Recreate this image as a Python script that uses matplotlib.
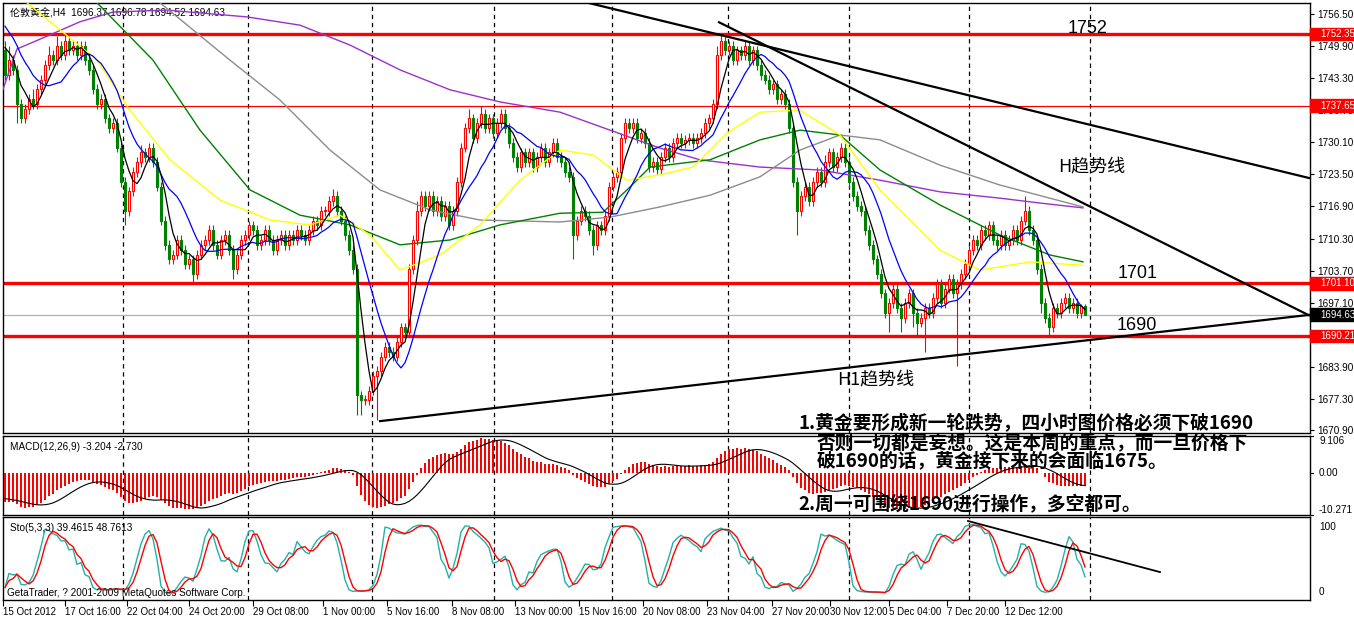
import matplotlib
matplotlib.use('Agg')
import matplotlib.pyplot as plt
import matplotlib.transforms as mtransforms
from matplotlib.patches import Rectangle
import numpy as np
import pandas as pd

plt.rcParams['font.family'] = ['Liberation Sans', 'Noto Sans CJK SC', 'DejaVu Sans']

# ---- data: H4 closes from 15 Oct 2012 ----
closes = [1744, 1747, 1745, 1738, 1735, 1737, 1739, 1738, 1741, 1743,
          1746, 1748, 1747, 1750, 1748, 1751, 1749, 1750, 1748, 1750,
          1747, 1745, 1741, 1738, 1739, 1735, 1733, 1734, 1729, 1722,
          1716, 1720, 1724, 1726, 1728, 1727, 1729, 1726, 1721, 1714,
          1709, 1706, 1707, 1710, 1708, 1705, 1706, 1703, 1707, 1709,
          1710, 1712, 1709, 1707, 1710, 1711, 1708, 1704, 1707, 1710,
          1711, 1713, 1712, 1709, 1710, 1712, 1710, 1708, 1710, 1711,
          1709, 1711, 1710, 1712, 1711, 1710, 1712, 1714, 1713, 1716,
          1716, 1718, 1719, 1716, 1714, 1711, 1708, 1704, 1678, 1677,
          1677, 1679, 1682, 1683, 1686, 1688, 1687, 1686, 1689, 1692,
          1691, 1704, 1710, 1716, 1719, 1717, 1719, 1716, 1718, 1715,
          1717, 1713, 1716, 1722, 1729, 1733, 1735, 1731, 1734, 1736,
          1733, 1735, 1732, 1734, 1736, 1733, 1730, 1727, 1725, 1728,
          1726, 1728, 1725, 1727, 1729, 1726, 1728, 1730, 1727, 1726,
          1724, 1723, 1711, 1714, 1716, 1715, 1712, 1709, 1713, 1712,
          1715, 1721, 1723, 1724, 1731, 1734, 1733, 1734, 1731, 1732,
          1730, 1725, 1726, 1724.5, 1727, 1729, 1727, 1730, 1731, 1730,
          1730.5, 1731, 1730, 1731, 1732, 1734, 1735, 1738, 1748, 1751,
          1749, 1750, 1747, 1749, 1748, 1750, 1747, 1749, 1746, 1744,
          1743, 1741, 1742, 1739, 1740, 1738, 1733, 1722, 1716, 1719,
          1721, 1718, 1722, 1724, 1722, 1726, 1728, 1725, 1727, 1729,
          1726, 1722, 1719, 1717, 1716, 1712, 1709, 1706, 1703, 1699,
          1695, 1697, 1700, 1696, 1694, 1697, 1699, 1695, 1693, 1694,
          1696, 1695, 1698, 1701, 1697, 1700, 1702, 1699, 1701, 1703,
          1705, 1708, 1710, 1709, 1712, 1711, 1713, 1710, 1709, 1711,
          1709, 1710, 1712, 1710, 1714, 1716, 1712, 1710, 1704, 1697,
          1694, 1692, 1696, 1695, 1697, 1698, 1696, 1697, 1695, 1696.37, 1694.63]

wick_hi = [2, 3, 1, 1, 1, 1, 1, 2, 1, 1,
           1, 2, 1, 2, 1, 1.5, 1, 1, 1, 1,
           1, 1, 1, 1, 1, 1, 1, 1, 1, 1,
           1, 1, 1, 1, 1.5, 1, 1, 1, 1, 1,
           1, 1, 1, 1, 1, 1, 1, 1, 1, 1,
           1, 1, 1, 1, 1, 1, 1, 1, 1, 1,
           1, 1, 1, 1, 1, 1, 1, 1, 1, 1,
           1, 1, 1, 1, 1, 1, 1, 1, 1, 1,
           1, 1, 1.5, 1, 1, 1, 1, 1, 1, 1,
           1, 1, 1, 1, 1, 1, 1, 1, 1, 1,
           1, 1, 1, 2, 1, 1, 1, 1, 1, 1,
           1, 1, 1, 1, 1, 1, 2, 1, 1, 1.5,
           1, 1, 1, 1, 1, 1, 1, 1, 1, 1,
           1, 1, 1, 1, 1, 1, 1, 1, 1, 1,
           1, 1, 1, 1, 1, 1, 1, 1, 1, 1,
           1, 1, 1, 1, 1, 1, 1, 1, 1, 1,
           1, 1, 1, 1, 1, 1, 1, 1, 1, 1,
           1, 1, 1, 1, 1, 1, 1, 1, 2, 1.5,
           1, 1, 1, 1, 1, 1, 1, 1, 1, 1,
           1, 1, 1, 1, 1, 1, 1, 1, 1, 1,
           1, 1, 1, 1, 1, 1.5, 1, 1, 1, 1,
           1, 1, 1, 1, 1, 1, 1, 1, 1, 1,
           1, 1, 1, 1, 1, 1, 1, 1, 1, 1,
           1, 1, 1, 1, 1, 1, 1, 1, 1, 1,
           1, 1, 1, 1, 1, 1, 1, 1, 1, 1,
           1, 1, 1, 1, 1, 3, 1, 1, 1, 1,
           1, 1, 1, 1, 1, 1, 1, 1, 1, 0.4, 0.5]

wick_lo = [1, 1, 1, 4, 1, 1, 1, 1, 1, 1,
           1, 1, 1, 1, 1, 1, 1, 1, 1, 1,
           1, 1, 1, 1, 1, 1, 1, 1, 1, 1,
           3, 1, 1, 1, 1, 1, 1, 1, 1, 1,
           1, 1, 1, 1, 1, 1, 1, 2, 1, 1,
           1, 1, 1, 1, 1, 1, 1, 2, 1, 1,
           1, 1, 1, 1, 1, 1, 1, 1, 1, 1,
           1, 1, 1, 1, 1, 1, 1, 1, 1, 1,
           1, 1, 1, 1, 1, 1, 1, 1, 4, 3,
           1, 1, 1, 9, 1, 1, 1, 1, 1, 1,
           1, 1, 1, 1, 1, 1, 1, 1, 1, 1,
           1, 1, 1, 1, 1, 1, 1, 1, 1, 1,
           1, 1, 1, 1, 1, 1, 1, 1, 1, 1,
           1, 1, 1, 1, 1, 1, 1, 1, 1, 1,
           1, 1, 5, 1, 1, 1, 1, 2, 1, 1,
           1, 1, 1, 1, 1, 1, 1, 1, 1, 1,
           1, 1, 1, 1, 1, 1, 1, 1, 1, 1,
           1, 1, 1, 1, 1, 1, 1, 1, 1, 1,
           1, 1, 1, 1, 1, 1, 1, 1, 1, 1,
           1, 1, 1, 1, 1, 1, 1, 1, 5, 1,
           1, 1, 1, 1, 1, 1, 1, 1, 1, 1,
           1, 1, 1, 1, 1, 1, 1, 1, 1, 1,
           1, 4, 1, 1, 3, 1, 1, 3, 3, 1,
           7, 1, 1, 1, 1, 1, 1, 1, 15, 1,
           1, 1, 1, 1, 1, 1, 1, 1, 1, 1,
           1, 1, 1, 1, 1, 1, 1, 1, 1, 2,
           1, 2, 1, 1, 1, 1, 1, 1, 1, 1, 0.1]

# closes before the first visible bar (only used to warm up the indicators)
hist_closes = [1782, 1784, 1781, 1779, 1780, 1777, 1775, 1776, 1773, 1772,
               1773, 1770, 1768, 1769, 1766, 1765, 1766, 1763, 1761, 1762,
               1759, 1757, 1758, 1755, 1754, 1755, 1752, 1751, 1752, 1749]

# slower moving averages as (bar, price)
yellow_bar = [0, 5.5, 23, 31.25, 41.25, 53.75, 66.25, 76.25, 83.75, 91.25, 98.75, 108.75, 118.75, 128.75,
              138.75, 147, 155.5, 163.75, 172, 180.5, 188.75, 198.75, 208.75, 218.75, 233.75, 243.75, 256.25, 269.5]
yellow_val = [1762, 1758.8, 1747.0, 1736.7, 1726.5, 1718.2, 1714.1, 1713.1, 1715.1, 1711.0, 1703.8, 1706.9, 1713.1, 1722.3,
              1728.5, 1727.5, 1722.3, 1723.4, 1725.0, 1732.0, 1736.3, 1736.7, 1731.6, 1720.3, 1707.9, 1703.8, 1705.5, 1704.8]
green_bar = [15, 23, 37, 48.75, 61.25, 73.75, 86.25, 98.75, 111.25, 123.75, 138.75, 149.5, 155.5, 161.25,
             176.25, 188.75, 198.75, 208.75, 218.75, 233.75, 248.75, 261.25, 269.5]
green_val = [1766, 1758.8, 1747.0, 1732.6, 1720.3, 1715.1, 1713.1, 1709.0, 1710.0, 1713.1, 1715.5, 1715.7, 1720.3, 1725.0,
             1726.5, 1730.6, 1732.6, 1731.6, 1724.4, 1717.2, 1711.0, 1706.9, 1705.5]
gray_bar = [25, 38.75, 56.25, 68.75, 81.25, 93.75, 106.25, 118.75, 138.75, 151.25, 163.75, 176.25, 188.75,
            198.75, 208.75, 218.75, 233.75, 248.75, 269.5]
gray_val = [1768, 1758.8, 1747.0, 1738.8, 1728.5, 1720.3, 1716.2, 1714.1, 1713.7, 1714.7, 1716.8, 1719.2, 1723.0,
            1728.5, 1731.6, 1730.6, 1725.4, 1721.3, 1716.8]
purple_bar = [-0.5, 3, 11.25, 18.75, 27, 40.5, 60.5, 73.75, 86.25, 98.75, 111.25, 123.75, 138.75, 151.25,
              163.75, 173.75, 188.75, 203.75, 218.75, 233.75, 248.75, 258.75, 269.5]
purple_val = [1741.0, 1749.3, 1752.2, 1754.9, 1756.9, 1757.3, 1755.9, 1754.2, 1750.1, 1745.0, 1740.9, 1738.4, 1736.3, 1732.6,
              1728.9, 1726.5, 1725.0, 1724.4, 1722.3, 1719.9, 1718.6, 1717.6, 1716.6]

levels_red = [1752.35, 1701.10, 1690.21]
level_thin = 1737.65
last_price = 1694.63

# trend lines (bar, price) anchors
trend_a = ([145.75, 326.25], [1758.8, 1722.7])
trend_b = ([178.25, 326.25], [1754.9, 1694.4])
trend_h1 = ([93.5, 326.25], [1672.7, 1694.6])
sto_trend = ([240.75, 288.75], [100.7, 33])

# 1690.50 sits under the 1690.21 price box, so it is not listed
price_ticks = [1756.50, 1749.90, 1743.30, 1736.70, 1730.10, 1723.50, 1716.90,
               1710.30, 1703.70, 1697.10, 1683.90, 1677.30, 1670.90]
time_labels = ['15 Oct 2012', '17 Oct 16:00', '22 Oct 04:00', '24 Oct 20:00', '29 Oct 08:00',
               '1 Nov 00:00', '5 Nov 16:00', '8 Nov 08:00', '13 Nov 00:00', '15 Nov 16:00',
               '20 Nov 08:00', '23 Nov 04:00', '27 Nov 20:00', '30 Nov 12:00', '5 Dec 04:00',
               '7 Dec 20:00', '12 Dec 12:00']
time_pos = [-0.5, 15, 30.5, 46, 62, 79.5, 95.5, 111.75, 127.5, 143.5, 159.5, 175.5,
            191.75, 206.25, 221, 235.5, 250]
grid_pos = [29.5, 60.75, 91.75, 122.25, 151.75, 180.75, 211, 241, 271.25]

note_lines = ['1.黄金要形成新一轮跌势，四小时图价格必须下破1690',
              '否则一切都是妄想。这是本周的重点，而一旦价格下',
              '破1690的话，黄金接下来的会面临1675。',
              '2.周一可围绕1690进行操作，多空都可。']


def stochastic(h, l, c, k=5, d=3, slow=3):
    ll = l.rolling(k, min_periods=1).min()
    hh = h.rolling(k, min_periods=1).max()
    num = (c - ll).rolling(slow, min_periods=1).sum()
    den = (hh - ll).rolling(slow, min_periods=1).sum()
    main = 100 * num / den.replace(0, np.nan)
    sig = main.rolling(d, min_periods=1).mean()
    return main, sig


def main():
    c = np.array(closes, dtype=float)
    n = len(c)
    x = np.arange(n)
    o = np.concatenate([[hist_closes[-1]], c[:-1]])
    hi = np.maximum(o, c) + np.array(wick_hi)
    lo = np.minimum(o, c) - np.array(wick_lo)
    up = c >= o

    allc = pd.Series(list(hist_closes) + list(c))
    nh = len(hist_closes)
    sma_fast = allc.rolling(5).mean().values[nh:]
    sma_blue = allc.rolling(12).mean().values[nh:]
    ema12 = allc.ewm(span=12, adjust=False).mean()
    ema26 = allc.ewm(span=26, adjust=False).mean()
    macd = (ema12 - ema26)
    macd_sig = macd.rolling(9).mean().values[nh:]
    macd = macd.values[nh:]
    st_main, st_sig = stochastic(pd.Series(hi), pd.Series(lo), pd.Series(c))

    W, H = 1354, 619
    fig = plt.figure(figsize=(W / 100, H / 100), dpi=100)
    ax1 = fig.add_axes([3 / W, 1 - 433 / H, 1307 / W, 430 / H])
    ax2 = fig.add_axes([3 / W, 1 - 515 / H, 1307 / W, 79 / H])
    ax3 = fig.add_axes([3 / W, 1 - 600 / H, 1307 / W, 83 / H])
    xlim = (-0.5, 326.25)

    for ax in (ax1, ax2, ax3):
        ax.set_xlim(*xlim)
        for s in ax.spines.values():
            s.set_linewidth(1.0)
            s.set_color('black')
        for g in grid_pos:
            ax.axvline(g, color='black', lw=0.9, ls=(0, (3.5, 3)), zorder=1)
        ax.tick_params(axis='y', left=False, labelleft=False, right=True, labelright=True,
                       direction='out', length=3, width=0.8, labelsize=7.2, pad=2)
        ax.tick_params(axis='x', bottom=False, labelbottom=False)

    # ---- main price panel ----
    ax1.set_ylim(1670.28, 1758.76)
    ax1.set_yticks(price_ticks)
    ax1.set_yticklabels(['%.2f' % p for p in price_ticks])
    ax1.axhline(last_price, color='#b0b0b0', lw=0.9, zorder=1)
    for lv in levels_red:
        ax1.axhline(lv, color='red', lw=2.4, zorder=2)
    ax1.axhline(level_thin, color='red', lw=0.9, zorder=2)

    col = np.where(up, 'red', '#008000')
    ax1.vlines(x, lo, hi, colors=col, lw=0.8, zorder=3)
    body = np.maximum(np.abs(c - o), 0.25)
    ax1.bar(x[up], body[up], bottom=o[up], width=0.62, facecolor='white', edgecolor='red', lw=0.8, zorder=4)
    ax1.bar(x[~up], body[~up], bottom=c[~up], width=0.62, facecolor='#008000', edgecolor='#008000', lw=0.8, zorder=4)

    ax1.plot(purple_bar, purple_val, color='#9932CC', lw=1.0, zorder=5)
    ax1.plot(gray_bar, gray_val, color='#8c8c8c', lw=1.0, zorder=5)
    ax1.plot(green_bar, green_val, color='#008000', lw=1.0, zorder=5)
    ax1.plot(yellow_bar, yellow_val, color='#ffff00', lw=1.0, zorder=5)
    ax1.plot(x, sma_blue, color='#0000ff', lw=0.9, zorder=6)
    ax1.plot(x, sma_fast, color='black', lw=0.9, zorder=6)

    for tl in (trend_a, trend_b, trend_h1):
        ax1.plot(tl[0], tl[1], color='black', lw=1.6, zorder=7, solid_capstyle='butt')

    ax1.text(7 / 1307, 1 - 10 / 430, '伦敦黄金,H4  1696.37 1696.78 1694.52 1694.63',
             transform=ax1.transAxes, fontsize=7.2, va='center', ha='left')
    tb = mtransforms.blended_transform_factory(ax1.transAxes, ax1.transData)
    fx = lambda px: (px - 3) / 1307
    ax1.text(fx(1068), 1753.6, '1752', transform=tb, fontsize=13, va='center', ha='left')
    ax1.text(fx(1118), 1703.1, '1701', transform=tb, fontsize=13, va='center', ha='left')
    ax1.text(fx(1117), 1692.4, '1690', transform=tb, fontsize=13, va='center', ha='left')
    ax1.text(fx(1058), 1725.0, 'H趋势线', transform=tb, fontsize=13, va='center', ha='left',
             family=['Noto Sans CJK SC', 'DejaVu Sans'])
    ax1.text(fx(837), 1681.0, 'H1趋势线', transform=tb, fontsize=13, va='center', ha='left',
             family=['Noto Sans CJK SC', 'DejaVu Sans'])

    # price boxes on the scale
    for lv, fc in [(1752.35, 'red'), (1737.65, 'red'), (1701.10, 'red'), (1690.21, 'red'), (last_price, 'black')]:
        ax1.add_patch(Rectangle((1.0, lv - 1.3), 44 / 1307, 2.6, transform=tb, facecolor=fc,
                                edgecolor=fc, clip_on=False, zorder=10))
        ax1.text(1 + 10 / 1307, lv, '%.2f' % lv, transform=tb, color='white', fontsize=7.0,
                 va='center', ha='left', clip_on=False, zorder=11)

    # ---- MACD panel ----
    ax2.set_ylim(-10.271, 9.106)
    ax2.set_yticks([])
    ax2.bar(x, np.clip(macd, -10.271, 9.106), width=0.28, color='#ff0000', linewidth=0, zorder=3)
    ax2.plot(x, macd_sig, color='black', lw=0.8, zorder=4)
    ax2.text(7 / 1307, 0.86, 'MACD(12,26,9) -3.204 -2.730', transform=ax2.transAxes, fontsize=7.2, va='center')
    t2 = mtransforms.blended_transform_factory(ax2.transAxes, ax2.transData)
    for v, lab, va in [(9.106, '9.106', 'top'), (0, '0.00', 'center'), (-10.271, '-10.271', 'bottom')]:
        ax2.text(1 + 9 / 1307, v, lab, transform=t2, fontsize=7.2, va=va, ha='left', clip_on=False)
        ax2.plot([1.0, 1 + 3 / 1307], [v, v], color='black', lw=0.8, clip_on=False, transform=t2)

    # ---- stochastic panel ----
    ax3.set_ylim(-4, 106)
    ax3.set_yticks([])
    ax3.plot(x, st_main, color='#20b2aa', lw=1.0, zorder=3)
    ax3.plot(x, st_sig, color='red', lw=1.0, zorder=4)
    ax3.plot(sto_trend[0], sto_trend[1], color='black', lw=1.3, zorder=5)
    ax3.text(7 / 1307, 0.87, 'Sto(5,3,3) 39.4615 48.7613', transform=ax3.transAxes, fontsize=7.2, va='center')
    ax3.text(4 / 1307, 0.08, 'GetaTrader, ? 2001-2009 MetaQuotes Software Corp.', transform=ax3.transAxes,
             fontsize=7.2, va='center')
    t3 = mtransforms.blended_transform_factory(ax3.transAxes, ax3.transData)
    for v, lab, va in [(100, '100', 'top'), (0, '0', 'bottom')]:
        ax3.text(1 + 9 / 1307, v, lab, transform=t3, fontsize=7.2, va=va, ha='left', clip_on=False)

    ax3.set_xticks(time_pos)
    ax3.set_xticklabels(time_labels, ha='left')
    ax3.tick_params(axis='x', bottom=True, labelbottom=True, direction='out', length=4, width=0.8,
                    labelsize=7.0, pad=1)

    # ---- notes ----
    nf = ['Noto Sans CJK SC', 'DejaVu Sans']
    fig.text(798 / W, 1 - 423 / H, note_lines[0], fontsize=13.5, fontweight='bold', family=nf, va='center')
    fig.text(817 / W, 1 - 443 / H, note_lines[1], fontsize=13.5, fontweight='bold', family=nf, va='center')
    fig.text(817 / W, 1 - 462 / H, note_lines[2], fontsize=13.5, fontweight='bold', family=nf, va='center')
    fig.text(798 / W, 1 - 505 / H, note_lines[3], fontsize=13.5, fontweight='bold', family=nf, va='center')

    fig.savefig('out.png', dpi=100, facecolor='white')


if __name__ == '__main__':
    main()
